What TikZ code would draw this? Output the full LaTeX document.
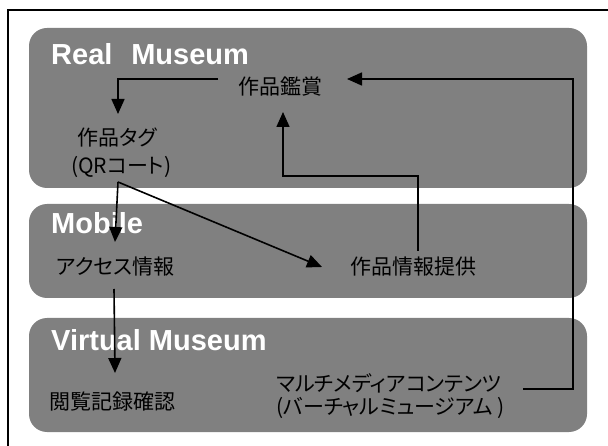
\documentclass[tikz,border=0pt]{standalone}
\usepackage{fontspec}
\setmainfont{Liberation Sans}
\newfontfamily\jp[RawFeature=+palt]{Noto Sans CJK JP}
\usetikzlibrary{arrows.meta}
\definecolor{boxgray}{RGB}{128,128,128}
\tikzset{
  layer/.style={fill=boxgray, rounded corners=18pt},
  heading/.style={anchor=base west, inner sep=0pt, text=white, font=\fontsize{29}{32}\bfseries\selectfont},
  jtext/.style={anchor=west, inner sep=0pt, text=black, font=\jp\fontsize{21}{24}\selectfont},
  arr/.style={draw=black, line width=1.6pt, -{Triangle[length=15pt,width=13pt]}},
  plain/.style={draw=black, line width=1.6pt}
}
\begin{document}
\begin{tikzpicture}[x=1pt,y=-1pt]
\useasboundingbox (0,0) rectangle (608,446);
\fill[white] (0,0) rectangle (608,446);
\draw[line width=2pt] (7.5,10.5) rectangle (660,480);
% layers
\fill[layer] (29,28) rectangle (587,188);
\fill[layer] (29,204) rectangle (587,298);
\fill[layer] (29,318) rectangle (587,432);
% headings
\node[heading] (hreal) at (51,65) {Real\hspace{0.65em}Museum};
\node[heading] (hmob) at (51,234) {Mobile};
\node[heading] (hvir) at (51,351) {Virtual Museum};
% texts
\node[jtext, anchor=center] (kansho) at (280,87) {作品鑑賞};
\node[jtext] (tag) at (77,138) {作品タグ};
\node[jtext] (qr) at (71,167) {(QRコート)};
\node[jtext] (access) at (56,267) {アクセス情報};
\node[jtext] (teikyo) at (350,267) {作品情報提供};
\node[jtext] (etsuran) at (49,402) {閲覧記録確認};
\node[jtext] (multi) at (276,383) {マルチメディアコンテンツ};
\node[jtext] (virtual) at (276,408) {(バーチャルミュージアム )};
% connector points
\coordinate (k-out) at (218,79);
\coordinate (tag-in) at (118,114);
\coordinate (qr-out) at (118,182);
\coordinate (acc-in) at (115,242);
\coordinate (teik-in) at (322,267);
\coordinate (acc-out) at (114,289);
\coordinate (ets-in) at (115,373);
\coordinate (teik-out) at (418,251);
\coordinate (k-in-b) at (283,112);
\coordinate (mul-out) at (523,389);
\coordinate (k-in-r) at (347,79);
% connectors
\draw[arr] (k-out) -| (tag-in);
\draw[arr] (qr-out) -- (acc-in);
\draw[arr] (qr-out) -- (teik-in);
\draw[arr] (acc-out) -- (ets-in);
\draw[arr] (teik-out) -- (418,176) -| (k-in-b);
\draw[arr] (mul-out) -- (573,389) |- (k-in-r);
\end{tikzpicture}
\end{document}
